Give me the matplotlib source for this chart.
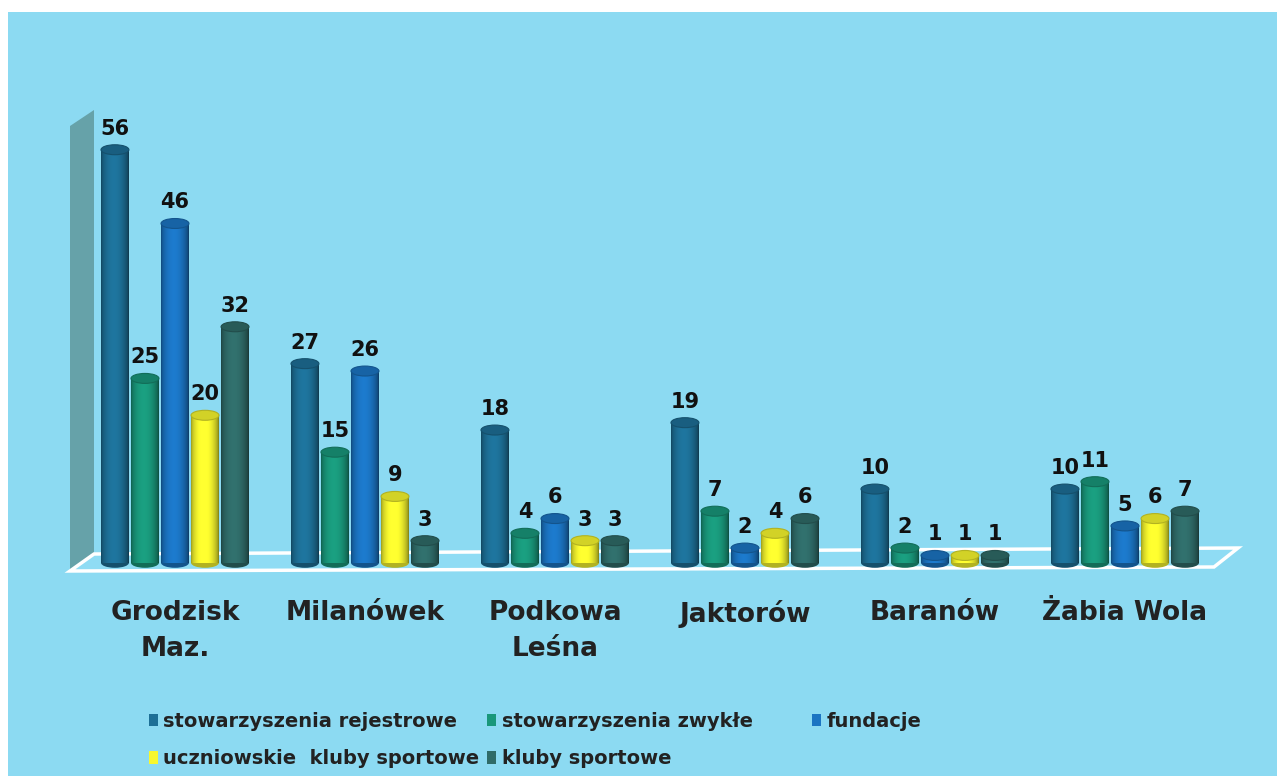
import numpy as np
import matplotlib
matplotlib.use("Agg")
import matplotlib.pyplot as plt
from matplotlib.patches import Polygon, Rectangle, Ellipse, Patch

# Data
gminy = ["Grodzisk\nMaz.", "Milanówek", "Podkowa\nLeśna", "Jaktorów", "Baranów", "Żabia Wola"]
series_names = ["stowarzyszenia rejestrowe", "stowarzyszenia zwykłe", "fundacje",
                "uczniowskie  kluby sportowe", "kluby sportowe"]
stow_rejestrowe = [56, 27, 18, 19, 10, 10]
stow_zwykle = [25, 15, 4, 7, 2, 11]
fundacje = [46, 26, 6, 2, 1, 5]
uczniowskie_kluby = [20, 9, 3, 4, 1, 6]
kluby_sportowe = [32, 3, 3, 6, 1, 7]

series = [stow_rejestrowe, stow_zwykle, fundacje, uczniowskie_kluby, kluby_sportowe]
colors = ["#1d6f96", "#19977a", "#1b74c2", "#f7f72e", "#2f6b68"]

W, H = 1277, 776
fig = plt.figure(figsize=(W / 100, H / 100), dpi=100, facecolor="white")


def px(x, y):
    # pixel position -> figure fraction (for decorations only)
    return (x / W, 1 - y / H)


# light blue slide background
fig.patches.append(Rectangle(px(8, H), 1, (H - 12) / H, transform=fig.transFigure,
                             facecolor="#8cdaf2", edgecolor="none", zorder=0))
# left wall
fig.patches.append(Polygon([px(70, 126), px(94, 110), px(94, 554), px(70, 571)],
                           closed=True, transform=fig.transFigure,
                           facecolor="#66a2a9", edgecolor="none", zorder=1))
# floor
fig.patches.append(Polygon([px(70, 571), px(94, 554), px(1238, 548), px(1214, 567)],
                           closed=True, transform=fig.transFigure,
                           facecolor="#8fdcf4", edgecolor="white", linewidth=2.5, zorder=1))

ax = fig.add_axes([0, 0, 1, 1])
ax.set_zorder(3)
ax.patch.set_alpha(0)
ax.set_axis_off()

x = np.arange(len(gminy))
bw = 0.147
offs = np.array([-2, -1, 0, 1, 2]) * 0.158
ell_h = 1.35

t = np.linspace(0, 1, 64)
shade = 0.62 + 0.5 * np.sin(np.pi * t) ** 0.6 - 0.12 * t

for i, vals in enumerate(series):
    base = np.array(matplotlib.colors.to_rgb(colors[i]))
    bars = ax.bar(x + offs[i], vals, width=bw, color=colors[i], zorder=3)
    grad = np.clip(base[None, :] * shade[:, None], 0, 1)[None, :, :]
    dark = np.clip(base * 0.72, 0, 1)
    for rect, v in zip(bars, vals):
        bx, bwid, bh = rect.get_x(), rect.get_width(), rect.get_height()
        cx = bx + bwid / 2
        ax.add_patch(Ellipse((cx, 0), bwid, ell_h, facecolor=dark, edgecolor="none", zorder=3))
        im = ax.imshow(grad, extent=(bx, bx + bwid, 0, bh), aspect="auto", zorder=4)
        im.set_clip_path(rect)
        ax.add_patch(Ellipse((cx, bh), bwid, ell_h, facecolor=np.clip(base * 0.85, 0, 1),
                             edgecolor=dark, linewidth=0.8, zorder=5))
        rect.set_visible(False)
        ax.text(cx, bh + 1.5, str(v), ha="center", va="bottom", fontsize=15,
                fontweight="heavy", color="#111111", zorder=6)

for xi, name in zip(x, gminy):
    ax.text(xi, -5.0, name, ha="center", va="top", fontsize=19, fontweight="heavy",
            color="#222222", linespacing=1.5)

ax.set_xlim(-0.921, 5.8)
ax.set_ylim(-28.9, 76.3)

handles = [Patch(facecolor=c, edgecolor="none") for c in colors]
leg_kw = dict(loc="upper left", frameon=False, prop={"weight": "bold", "size": 14},
              handlelength=0.45, handleheight=0.6, handletextpad=0.3,
              labelspacing=0.95, labelcolor="#222222", borderaxespad=0)
order = [0, 3, 1, 4]
fig.legend([handles[k] for k in order], [series_names[k] for k in order],
           bbox_to_anchor=px(141, 704), ncol=2, columnspacing=0.4, **leg_kw)
fig.legend([handles[2]], [series_names[2]], bbox_to_anchor=px(804, 704), **leg_kw)

fig.savefig("out.png", dpi=100, facecolor="white")
